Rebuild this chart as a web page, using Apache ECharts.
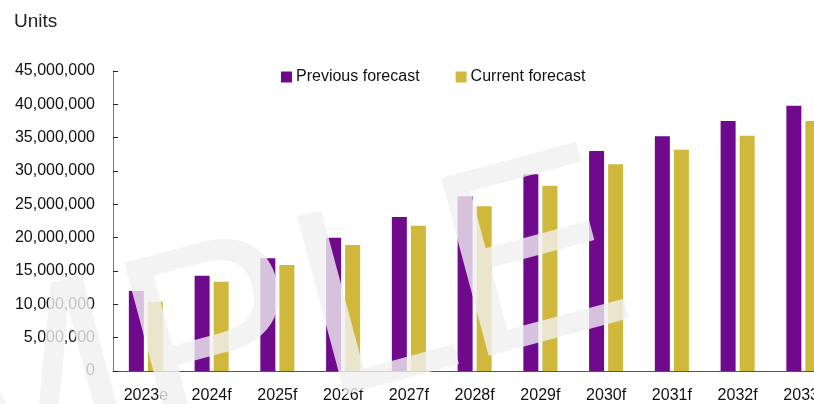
<!DOCTYPE html>
<html>
<head>
<meta charset="utf-8">
<script src="https://cdn.jsdelivr.net/npm/echarts@6/dist/echarts.min.js"></script>
<style>
  html, body { margin: 0; padding: 0; background: #fff; overflow: hidden; }
  #chart { width: 850px; height: 404px; }
</style>
</head>
<body>
<div id="chart"></div>
<script>
const years = ["2023e", "2024f", "2025f", "2026f", "2027f", "2028f", "2029f", "2030f", "2031f", "2032f", "2033f"];
const previousForecast = [12000000, 14300000, 16900000, 20000000, 23100000, 26200000, 29500000, 33000000, 35200000, 37500000, 39800000];
const currentForecast = [10400000, 13400000, 15900000, 18900000, 21800000, 24700000, 27800000, 31000000, 33200000, 35300000, 37500000];
const seriesNames = ["Previous forecast", "Current forecast"];
const yMin = 0;
const yMax = 45000000;
const yStep = 5000000;

const font = "'Liberation Sans', Arial, sans-serif";

// the plot runs past the right edge of the 814px window, so the div is wider
const chart = echarts.init(document.getElementById("chart"));

const options = {
  animation: false,
  textStyle: { fontFamily: font },
  title: {
    text: "Units",
    left: 9,
    top: 7,
    textStyle: { fontFamily: font, fontSize: 19, fontWeight: "normal", color: "#222" },
  },
  legend: {
    data: seriesNames,
    left: 276,
    top: 64,
    icon: "rect",
    itemWidth: 11,
    itemHeight: 11,
    itemGap: 36,
    textStyle: { fontFamily: font, fontSize: 16, color: "#111", padding: [0, 0, 0, -1] },
  },
  grid: { left: 113, right: 13.75, top: 71, bottom: 31, containLabel: false },
  xAxis: {
    type: "category",
    data: years,
    axisLine: { lineStyle: { color: "#555", width: 1 } },
    axisTick: { inside: true, length: 5, lineStyle: { color: "#333" } },
    axisLabel: { fontFamily: font, fontSize: 16, color: "#111", margin: 17 },
  },
  yAxis: {
    type: "value",
    min: yMin,
    max: yMax,
    interval: yStep,
    splitLine: { show: false },
    axisLine: { show: true, lineStyle: { color: "#777", width: 1 } },
    axisTick: { show: true, inside: true, length: 5, lineStyle: { color: "#222" } },
    axisLabel: {
      fontFamily: font,
      fontSize: 16,
      color: "#111",
      margin: 18,
      formatter: (v) => v.toLocaleString("en-US"),
    },
  },
  series: [
    {
      name: seriesNames[0],
      type: "bar",
      data: previousForecast,
      barWidth: 15,
      barGap: "27%",
      itemStyle: { color: "#700a8c" },
    },
    {
      name: seriesNames[1],
      type: "bar",
      data: currentForecast,
      barWidth: 15,
      itemStyle: { color: "#d0b83c" },
    },
  ],
  // watermark
  graphic: [
    {
      type: "text",
      x: 621,
      y: 244,
      rotation: 0.262,
      z: 100,
      silent: true,
      style: {
        text: "SAMPLE",
        font: "268px " + font,
        fill: "rgba(240,240,240,0.8)",
        align: "right",
        verticalAlign: "middle",
      },
    },
  ],
};

chart.setOption(options);
</script>
</body>
</html>
